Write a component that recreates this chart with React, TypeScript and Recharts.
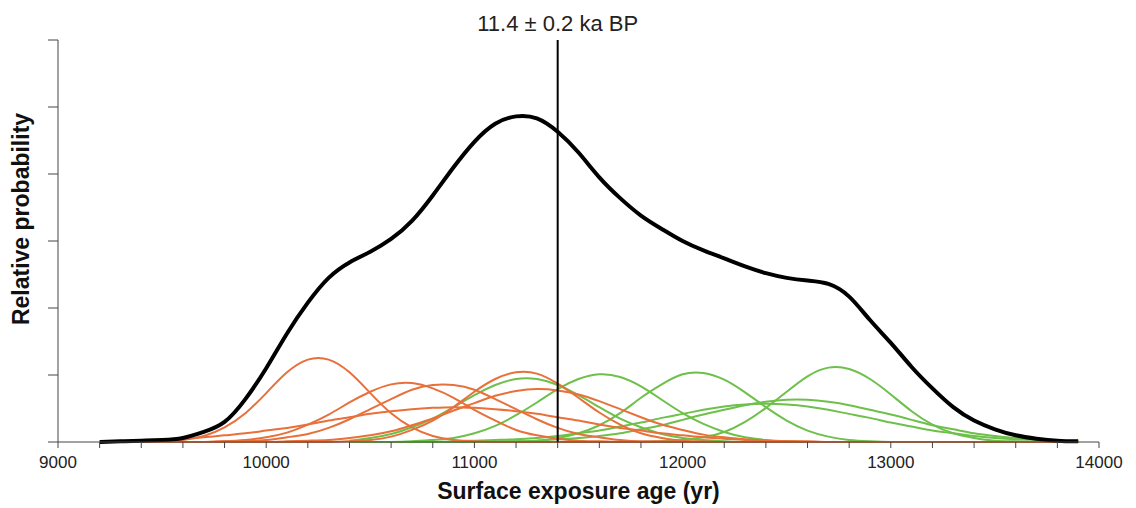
import React from "react";
import { LineChart, Line, XAxis, YAxis, ReferenceLine, Label } from "recharts";

// sample ages (yr), one point every 100 years
const ages = [
  9200, 9300, 9400, 9500, 9600, 9700, 9800, 9900, 10000, 10100,
  10200, 10300, 10400, 10500, 10600, 10700, 10800, 10900, 11000, 11100,
  11200, 11300, 11400, 11500, 11600, 11700, 11800, 11900, 12000, 12100,
  12200, 12300, 12400, 12500, 12600, 12700, 12800, 12900, 13000, 13100,
  13200, 13300, 13400, 13500, 13600, 13700, 13800, 13900
];

const xTicks = [
  9000, 9200, 9400, 9600, 9800, 10000, 10200, 10400, 10600, 10800, 11000,
  11200, 11400, 11600, 11800, 12000, 12200, 12400, 12600, 12800, 13000,
  13200, 13400, 13600, 13800, 14000
];
const yTicks = [0, 1, 2, 3, 4, 5, 6];

const meanAge = 11400;

// summed probability
const summed = [
  0.0, 0.01, 0.02, 0.03, 0.06, 0.15, 0.3, 0.64, 1.1, 1.62,
  2.08, 2.45, 2.68, 2.84, 3.03, 3.3, 3.68, 4.1, 4.48, 4.75,
  4.86, 4.83, 4.63, 4.32, 3.95, 3.64, 3.38, 3.18, 3.0, 2.86,
  2.74, 2.62, 2.52, 2.45, 2.41, 2.36, 2.17, 1.82, 1.48, 1.12,
  0.8, 0.52, 0.32, 0.19, 0.1, 0.05, 0.02, 0.01
];

// individual samples (orange)
const orange1 = [
  null, null, 0, 0.01, 0.03, 0.09, 0.22, 0.43, 0.73, 1.04,
  1.23, 1.23, 1.04, 0.73, 0.43, 0.22, 0.09, 0.03, 0.01, 0,
  0, 0, 0, 0, 0, 0, 0, 0, 0, 0,
  0, 0, 0, 0, 0, 0, 0, 0, 0, 0,
  0, 0, 0, 0, 0, 0, 0, 0
];
const orange2 = [
  null, null, 0, 0, 0, 0, 0.01, 0.03, 0.07, 0.14,
  0.26, 0.41, 0.59, 0.75, 0.86, 0.88, 0.8, 0.66, 0.48, 0.32,
  0.18, 0.1, 0.05, 0.02, 0.01, 0, 0, 0, 0, 0,
  0, 0, 0, 0, 0, 0, 0, 0, 0, 0,
  0, 0, 0, 0, 0, 0, 0, 0
];
const orange3 = [
  null, null, 0, 0, 0, 0, 0.01, 0.01, 0.03, 0.07,
  0.12, 0.21, 0.34, 0.49, 0.64, 0.78, 0.85, 0.85, 0.78, 0.64,
  0.49, 0.34, 0.21, 0.12, 0.07, 0.03, 0.01, 0.01, 0, 0,
  0, 0, 0, 0, 0, 0, 0, 0, 0, 0,
  0, 0, 0, 0, 0, 0, 0, 0
];
const orange4 = [
  null, null, 0.02, 0.03, 0.05, 0.07, 0.1, 0.13, 0.17, 0.21,
  0.26, 0.32, 0.37, 0.42, 0.46, 0.49, 0.51, 0.52, 0.51, 0.49,
  0.46, 0.42, 0.37, 0.32, 0.26, 0.21, 0.17, 0.13, 0.1, 0.07,
  0.05, 0.03, 0.02, 0.01, 0.01, 0, 0, 0, 0, 0,
  0, 0, 0, 0, 0, 0, 0, 0
];
const orange5 = [
  null, null, 0, 0, 0, 0, 0, 0, 0, 0,
  0, 0, 0.01, 0.03, 0.08, 0.18, 0.32, 0.52, 0.75, 0.94,
  1.04, 1.02, 0.87, 0.66, 0.44, 0.26, 0.13, 0.06, 0.02, 0.01,
  0, 0, 0, 0, 0, 0, 0, 0, 0, 0,
  0, 0, 0, 0, 0, 0, 0, 0
];
const orange6 = [
  null, null, 0, 0, 0, 0, 0, 0, 0, 0.01,
  0.02, 0.03, 0.06, 0.1, 0.16, 0.25, 0.35, 0.47, 0.58, 0.69,
  0.76, 0.79, 0.77, 0.71, 0.61, 0.49, 0.37, 0.26, 0.18, 0.11,
  0.07, 0.04, 0.02, 0.01, 0, 0, 0, 0, 0, 0,
  0, 0, 0, 0, 0, 0, 0, 0
];

// individual samples (green)
const green1 = [
  null, null, null, null, null, null, null, null, null, null,
  null, null, 0.02, 0.06, 0.12, 0.22, 0.35, 0.52, 0.7, 0.85,
  0.94, 0.94, 0.85, 0.7, 0.52, 0.35, 0.22, 0.12, 0.06, 0.03,
  0.01, 0, 0, 0, 0, 0, 0, 0, 0, 0,
  0, 0, 0, 0, 0, 0, 0, 0
];
const green2 = [
  null, null, null, null, null, null, null, null, null, null,
  null, null, 0, 0, 0, 0.01, 0.03, 0.06, 0.13, 0.24,
  0.4, 0.59, 0.79, 0.94, 1.01, 0.97, 0.83, 0.63, 0.43, 0.27,
  0.15, 0.07, 0.03, 0.01, 0, 0, 0, 0, 0, 0,
  0, 0, 0, 0, 0, 0, 0, 0
];
const green3 = [
  null, null, null, null, null, null, null, null, null, null,
  null, null, 0, 0, 0, 0, 0, 0, 0, 0,
  0.01, 0.02, 0.06, 0.13, 0.25, 0.43, 0.66, 0.86, 1.01, 1.03,
  0.93, 0.74, 0.52, 0.32, 0.17, 0.08, 0.03, 0.01, 0, 0,
  0, 0, 0, 0, 0, 0, 0, 0
];
const green4 = [
  null, null, null, null, null, null, null, null, null, null,
  null, null, 0, 0, 0, 0, 0, 0, 0, 0,
  0, 0, 0, 0, 0, 0, 0, 0.01, 0.03, 0.07,
  0.15, 0.3, 0.51, 0.75, 0.98, 1.11, 1.09, 0.94, 0.71, 0.46,
  0.26, 0.13, 0.06, 0.02, 0.01, 0, 0, 0
];
const green5 = [
  null, null, null, null, null, null, null, null, null, null,
  null, null, 0, 0, 0, 0, 0, 0, 0, 0.01,
  0.01, 0.02, 0.04, 0.06, 0.09, 0.13, 0.19, 0.25, 0.33, 0.41,
  0.48, 0.55, 0.6, 0.63, 0.63, 0.6, 0.55, 0.48, 0.41, 0.33,
  0.25, 0.19, 0.13, 0.09, 0.06, 0.04, 0.02, 0.01
];
const green6 = [
  null, null, null, null, null, null, null, null, null, null,
  null, null, 0, 0, 0, 0, 0, 0.01, 0.02, 0.03,
  0.04, 0.06, 0.09, 0.13, 0.17, 0.23, 0.29, 0.36, 0.42, 0.48,
  0.53, 0.56, 0.57, 0.56, 0.53, 0.48, 0.42, 0.36, 0.29, 0.23,
  0.17, 0.13, 0.09, 0.06, 0.04, 0.03, 0.02, 0.01
];

const greens = [green1, green2, green3, green4, green5, green6];
const oranges = [orange1, orange2, orange3, orange4, orange5, orange6];

const data = ages.map((age, i) => {
  const row: Record<string, number | null> = { age, summed: summed[i] };
  greens.forEach((s, k) => (row["g" + k] = s[i]));
  oranges.forEach((s, k) => (row["o" + k] = s[i]));
  return row;
});

const FONT = "'Liberation Sans', Arial, Helvetica, sans-serif";
const AXIS = "#444";
const ORANGE = "#e8703a";
const GREEN = "#6ec04b";

export default function App() {
  return (
    <div style={{ position: "absolute", left: 0, top: 0, background: "#fff" }}>
      <LineChart
        width={1136}
        height={508}
        data={data}
        margin={{ top: 40, right: 37, bottom: 0, left: 0 }}
        style={{ fontFamily: FONT }}
      >
        <XAxis
          dataKey="age"
          type="number"
          domain={[9000, 14000]}
          ticks={xTicks}
          interval={0}
          tickFormatter={(v: number) => (v % 1000 === 0 ? String(v) : "")}
          tickSize={6}
          height={66}
          stroke={AXIS}
          tick={{ fill: "#222", fontSize: 17, dy: 6 }}
        >
          <Label
            value="Surface exposure age (yr)"
            position="insideBottom"
            offset={9}
            style={{ fontWeight: "bold", fontSize: 23, fill: "#111" }}
          />
        </XAxis>
        <YAxis
          type="number"
          domain={[0, 6]}
          ticks={yTicks}
          interval={0}
          tickFormatter={() => ""}
          tickSize={10}
          width={58}
          stroke={AXIS}
        >
          <Label
            value="Relative probability"
            angle={-90}
            position="center"
            dx={-8}
            dy={-22}
            style={{ fontWeight: "bold", fontSize: 23, fill: "#111" }}
          />
        </YAxis>
        {greens.map((_, k) => (
          <Line
            key={"g" + k}
            dataKey={"g" + k}
            type="natural"
            stroke={GREEN}
            strokeWidth={2}
            dot={false}
            isAnimationActive={false}
          />
        ))}
        {oranges.map((_, k) => (
          <Line
            key={"o" + k}
            dataKey={"o" + k}
            type="natural"
            stroke={ORANGE}
            strokeWidth={2}
            dot={false}
            isAnimationActive={false}
          />
        ))}
        <ReferenceLine
          x={meanAge}
          stroke="#000"
          strokeWidth={2}
          label={{
            value: "11.4 ± 0.2 ka BP",
            position: "top",
            offset: 9,
            fill: "#222",
            fontSize: 22
          }}
        />
        <Line
          dataKey="summed"
          type="natural"
          stroke="#000"
          strokeWidth={4}
          dot={false}
          isAnimationActive={false}
        />
      </LineChart>
    </div>
  );
}
